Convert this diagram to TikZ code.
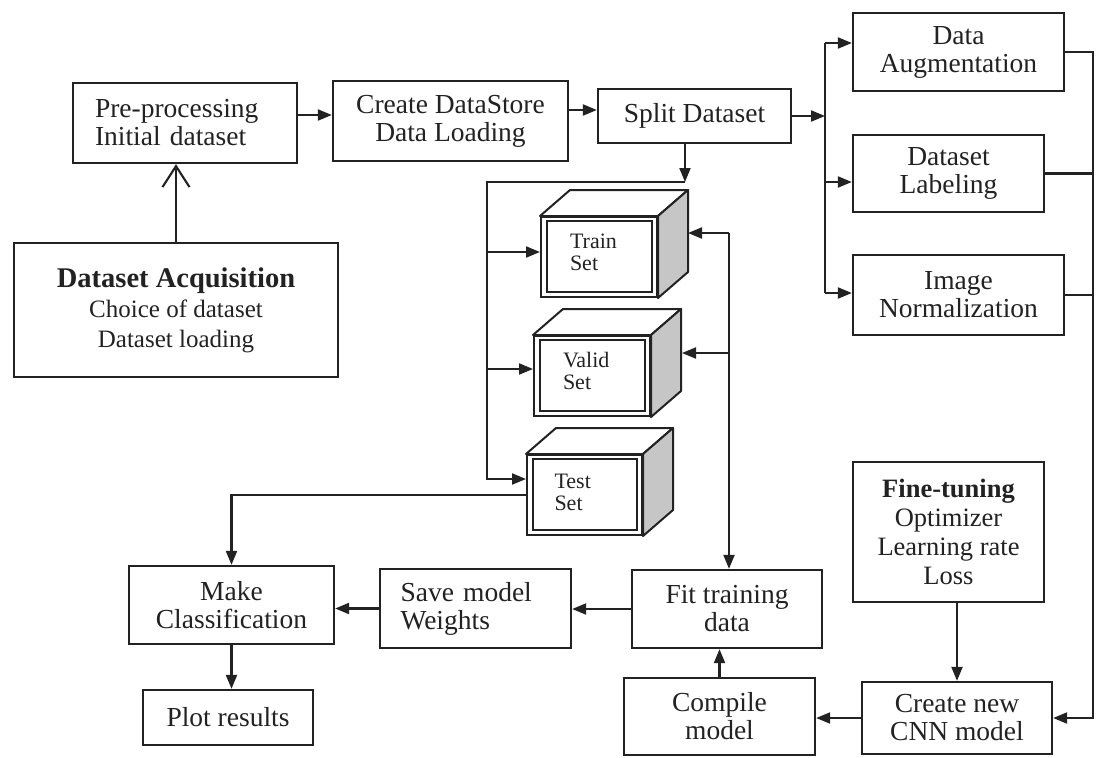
\documentclass[tikz,border=0pt]{standalone}
\usepackage{fontspec}
\setmainfont{Liberation Serif}
\usetikzlibrary{arrows.meta,calc}
\definecolor{ink}{HTML}{222222}
\definecolor{sideface}{HTML}{C6C6C6}
\begin{document}
\begin{tikzpicture}[x=1pt,y=-1pt,
  box/.style={draw=ink, line width=2.3pt, inner sep=0pt, align=center, text=ink,
    font=\fontsize{27.5}{28}\selectfont},
  conn/.style={draw=ink, line width=2.1pt},
  arr/.style={conn, -{Triangle[length=14pt,width=11pt]}},
  openarr/.style={conn, -{Straight Barb[length=21pt,width=27pt]}},
  front/.style={draw=ink, line width=2pt, fill=white, minimum width=116pt,
    minimum height=80pt, inner sep=0pt},
  cubetext/.style={inner sep=0pt, align=left, text width=58pt, text=ink,
    font=\fontsize{22}{22}\selectfont},
]
\fill[white] (0,0) rectangle (1096,758);
\useasboundingbox (0,0) rectangle (1096,758);

% process boxes
\node[box, minimum width=224pt, minimum height=80pt, text width=180pt, align=left]
  (pre) at (185,123) {Pre-processing\\Initial dataset};
\node[box, minimum width=235pt, minimum height=80pt] (cds) at (450.5,121)
  {Create DataStore\\Data Loading};
\node[box, minimum width=193pt, minimum height=54pt] (split) at (694.5,116) {Split Dataset};
\node[box, minimum width=211pt, minimum height=78pt] (aug) at (958.5,52) {Data\\Augmentation};
\node[box, minimum width=191pt, minimum height=77pt] (lab) at (948.5,173.5) {Dataset\\Labeling};
\node[box, minimum width=211pt, minimum height=80pt] (norm) at (958.5,295) {Image\\Normalization};
\node[box, minimum width=324pt, minimum height=134pt, font=\fontsize{25}{30}\selectfont]
  (acq) at (176,310)
  {{\fontsize{28.5}{30}\selectfont\bfseries Dataset Acquisition}\\Choice of dataset\\Dataset loading};
\node[box, minimum width=191pt, minimum height=140pt, font=\fontsize{26.5}{29}\selectfont]
  (fine) at (948.5,532) {\textbf{Fine-tuning}\\Optimizer\\Learning rate\\Loss};
\node[box, minimum width=190pt, minimum height=72pt] (cnn) at (957,718) {Create new\\CNN model};
\node[box, minimum width=191pt, minimum height=77pt] (comp) at (719.5,716.5) {Compile\\model};
\node[box, minimum width=190pt, minimum height=78pt] (fit) at (727,609) {Fit training\\data};
\node[box, minimum width=191pt, minimum height=79pt, text width=150pt, align=left]
  (save) at (475.5,608.5) {Save model\\Weights};
\node[box, minimum width=205pt, minimum height=78pt] (make) at (231.5,605) {Make\\Classification};
\node[box, minimum width=170pt, minimum height=55pt] (plot) at (228,717.5) {Plot results};

% data split cubes: front faces, then top and side faces
\node[front] (train) at (599,257) {};
\node[front] (valid) at (592,376) {};
\node[front, minimum width=115pt] (test) at (584.5,495) {};
\foreach \c in {train,valid,test}{
  \filldraw[draw=ink, line width=2pt, fill=white, line join=round]
    (\c.north west) -- ++(30,-26) -- ($(\c.north east)+(30,-26)$) -- (\c.north east) -- cycle;
  \filldraw[draw=ink, line width=2pt, fill=sideface, line join=round]
    (\c.north east) -- ++(30,-26) -- ($(\c.south east)+(30,-26)$) -- (\c.south east) -- cycle;
  \draw[ink, line width=2.6pt] ($(\c.south west)+(7,-6)$) rectangle ($(\c.north east)+(-6,5)$);
}
\node[cubetext] (traintxt) at ($(train)+(0,-5)$) {Train\\Set};
\node[cubetext] (validtxt) at ($(valid)+(0,-5)$) {Valid\\Set};
\node[cubetext] (testtxt) at ($(test)+(-1,-3)$) {Test\\Set};

% junction points
\coordinate (sb) at (685,182);
\coordinate (lb) at (487,182);
\coordinate (l1) at (487,252);
\coordinate (l2) at (487,369);
\coordinate (l3) at (487,479);
\coordinate (bT) at (825,43);
\coordinate (bM) at (825,182);
\coordinate (bB) at (825,293);
\coordinate (rx) at (1093,52);
\coordinate (rc1) at (729,233);
\coordinate (rc2) at (729,353);

% connectors
\draw[openarr] (acq.north) -- (acq.north |- pre.south);
\draw[arr] ($(pre.east)+(0,-8)$) -- ($(cds.west)+(0,-6)$);
\draw[arr] ($(cds.east)+(0,-11)$) -- ($(split.west)+(0,-6)$);
\draw[arr] (split.east) -- (split.east -| bT);
\draw[conn] (bT) -- (bB);
\draw[arr] (bT) -- (bT -| aug.west);
\draw[arr] (bM) -- (bM -| lab.west);
\draw[arr] (bB) -- (bB -| norm.west);
\draw[arr] (aug.east) -- (aug.east -| rx) -- (rx |- cnn.east) -- (cnn.east);
\draw[conn] (lab.east) -- (lab.east -| rx);
\draw[conn] (norm.east) -- (norm.east -| rx);
\draw[arr] (split.south -| sb) -- (sb);
\draw[arr] (sb) -- (lb) -- (l3) -- (l3 -| test.west);
\draw[arr] (l1) -- (l1 -| train.west);
\draw[arr] (l2) -- (l2 -| valid.west);
\draw[arr] (test.west) -| (make.north);
\draw[arr] (rc1) -- ($(train.east)+(30,-24)$);
\draw[arr] (rc1) -- (rc1 |- fit.north);
\draw[arr] (rc2) -- ($(valid.east)+(31,-23)$);
\draw[arr] (fine.south -| cnn.north) -- (cnn.north);
\draw[arr] (cnn.west) -- (cnn.west -| comp.east);
\draw[arr] (comp.north) -- (comp.north |- fit.south);
\draw[arr] (fit.west) -- (fit.west -| save.east);
\draw[arr] (save.west) -- (save.west -| make.east);
\draw[arr] (make.south) -- (make.south |- plot.north);
\end{tikzpicture}
\end{document}
